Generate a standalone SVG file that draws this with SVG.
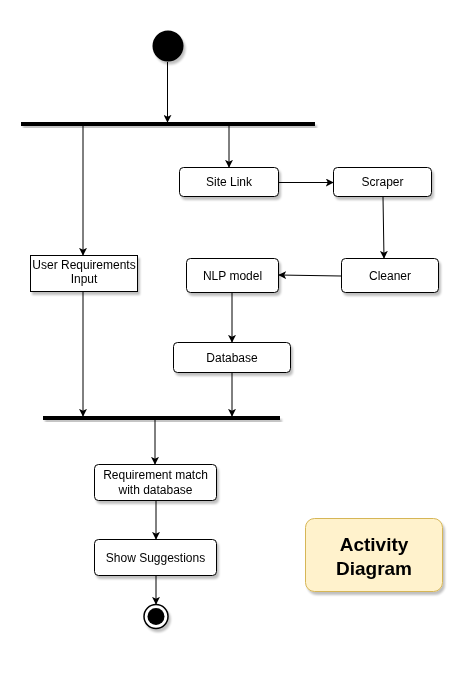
<svg xmlns="http://www.w3.org/2000/svg" width="458" height="686" viewBox="0 0 458 686">
<defs>
<style>
.box{fill:#fff;stroke:#000;stroke-width:1}
.t{font-family:"Liberation Sans",Arial,sans-serif;font-size:12px;fill:#000;text-anchor:middle}
.big{font-family:"Liberation Sans",Arial,sans-serif;font-size:19px;font-weight:bold;fill:#000;text-anchor:middle}
.c{fill:none;stroke:#000;stroke-width:1;marker-end:url(#arr)}
.bar{fill:#000}
</style>
<marker id="arr" viewBox="0 0 10 10" refX="9" refY="5" markerWidth="8" markerHeight="8" markerUnits="userSpaceOnUse" orient="auto">
<path d="M0,0 L10,5 L0,10 L2.5,5 z" fill="#000"/>
</marker>
<filter id="sh" x="-20%" y="-20%" width="150%" height="160%">
<feGaussianBlur in="SourceAlpha" stdDeviation="1.2"/>
<feOffset dx="2" dy="3" result="b"/>
<feComponentTransfer><feFuncA type="linear" slope="0.25"/></feComponentTransfer>
<feMerge><feMergeNode/><feMergeNode in="SourceGraphic"/></feMerge>
</filter>
</defs>
<rect width="458" height="686" fill="#fff"/>
<g id="connectors">
<path class="c" d="M167.5,62 L167.5,122"/>
<path class="c" d="M83,126 L83,255"/>
<path class="c" d="M229,126 L229,167"/>
<path class="c" d="M279,182.5 L333,182.5"/>
<path class="c" d="M383,197 L384,258"/>
<path class="c" d="M341,276 L279,275"/>
<path class="c" d="M232,292 L232,342"/>
<path class="c" d="M232,372 L232,416"/>
<path class="c" d="M83,291 L83,416"/>
<path class="c" d="M155,420 L155,464"/>
<path class="c" d="M156,501 L156,539"/>
<path class="c" d="M156,575 L156,604"/>
</g>
<g id="start" filter="url(#sh)"><circle cx="168" cy="46" r="15.5" fill="#000"/></g>
<g id="fork1" filter="url(#sh)"><rect class="bar" x="21" y="122" width="294" height="4"/></g>
<g id="site-link" filter="url(#sh)"><rect class="box" x="179.5" y="167.5" width="99" height="29" rx="4"/><text class="t" x="229" y="186">Site Link</text></g>
<g id="scraper" filter="url(#sh)"><rect class="box" x="333.5" y="167.5" width="98" height="29" rx="4"/><text class="t" x="382.5" y="186">Scraper</text></g>
<g id="cleaner" filter="url(#sh)"><rect class="box" x="341.5" y="258.5" width="97" height="34" rx="4"/><text class="t" x="390" y="279.5">Cleaner</text></g>
<g id="nlp-model" filter="url(#sh)"><rect class="box" x="186.5" y="258.5" width="92" height="34" rx="4"/><text class="t" x="232.5" y="279.5">NLP model</text></g>
<g id="database" filter="url(#sh)"><rect class="box" x="173.5" y="342.5" width="117" height="30" rx="4"/><text class="t" x="232" y="361.5">Database</text></g>
<g id="user-req" filter="url(#sh)"><rect class="box" x="30.5" y="255.5" width="107" height="36"/><text class="t" x="84" y="268.5">User Requirements</text><text class="t" x="84" y="283">Input</text></g>
<g id="join" filter="url(#sh)"><rect class="bar" x="43" y="416" width="237" height="4"/></g>
<g id="req-match" filter="url(#sh)"><rect class="box" x="94.5" y="464.5" width="122" height="36" rx="4"/><text class="t" x="155.5" y="479">Requirement match</text><text class="t" x="155.5" y="494">with database</text></g>
<g id="show-suggestions" filter="url(#sh)"><rect class="box" x="94.5" y="539.5" width="122" height="36" rx="4"/><text class="t" x="155.5" y="561.5">Show Suggestions</text></g>
<g id="end" filter="url(#sh)"><circle cx="156" cy="616.5" r="12" fill="#fff" stroke="#000" stroke-width="1.5"/><circle cx="156" cy="616.5" r="8.5" fill="#000"/></g>
<g id="title" filter="url(#sh)"><rect x="305.5" y="518.5" width="137" height="73" rx="9" fill="#fff2cc" stroke="#d6b656"/><text class="big" x="374" y="551">Activity</text><text class="big" x="374" y="575">Diagram</text></g>
</svg>
